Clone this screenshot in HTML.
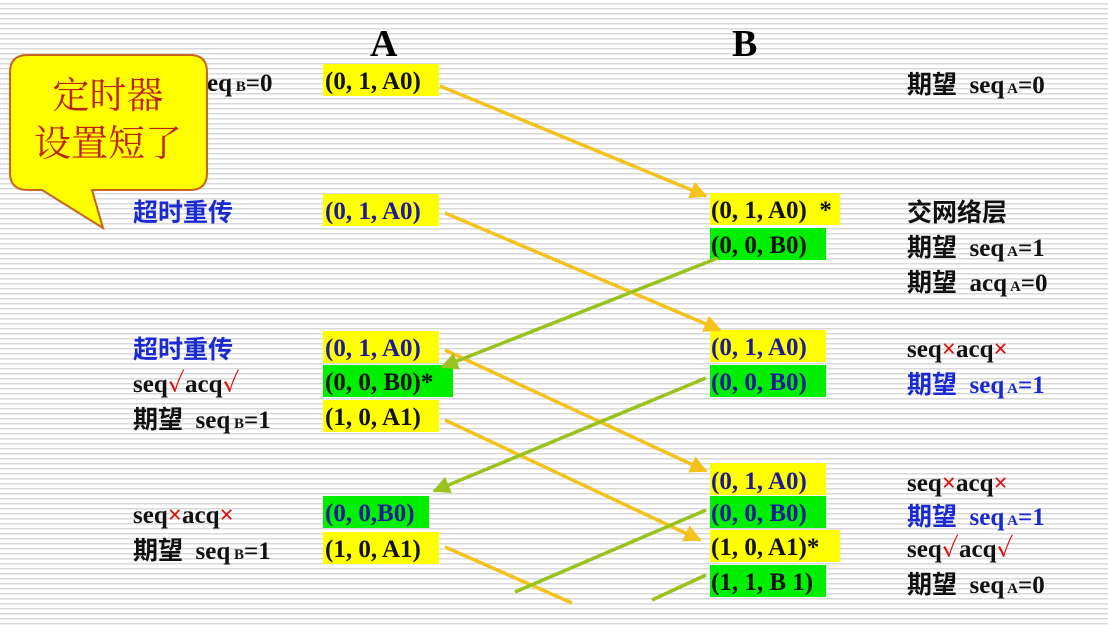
<!DOCTYPE html>
<html><head><meta charset="utf-8"><style>
html,body{margin:0;padding:0}
body{width:1108px;height:628px;overflow:hidden;background:#fff repeating-linear-gradient(to bottom,#fff 0px,#fff 3px,#d9d9d9 3px,#d9d9d9 4.5px,#fff 4.5px,#fff 5px)}
svg{display:block}
text{font-family:"Liberation Serif","Noto Serif CJK SC",serif;font-weight:bold;font-size:25px}
.cn{font-family:"Liberation Serif","Noto Sans CJK SC",sans-serif}
.s{font-size:15px}
</style></head><body>
<svg width="1108" height="628" xmlns="http://www.w3.org/2000/svg">
<defs>
<marker id="hy" viewBox="0 0 10 10" refX="9" refY="5" markerWidth="5" markerHeight="5" orient="auto"><path d="M0,0L10,5L0,10z" fill="#f5c21b"/></marker>
<marker id="hg" viewBox="0 0 10 10" refX="9" refY="5" markerWidth="5" markerHeight="5" orient="auto"><path d="M0,0L10,5L0,10z" fill="#99c31c"/></marker>
</defs>
<text x="370" y="56" style="font-size:38px">A</text>
<text x="732" y="56" style="font-size:38px">B</text>

<g>
<rect x="323" y="64" width="116" height="32" fill="#ffff00"/><text x="325" y="89" fill="#111">(0, 1, A0)</text>
<rect x="323" y="194" width="116" height="32" fill="#ffff00"/><text x="325" y="219" fill="#1a1a9a">(0, 1, A0)</text>
<rect x="323" y="331" width="116" height="32" fill="#ffff00"/><text x="325" y="356" fill="#1a1a9a">(0, 1, A0)</text>
<rect x="323" y="365" width="130" height="32" fill="#00ee00"/><text x="325" y="390" fill="#111">(0, 0, B0)*</text>
<rect x="323" y="400" width="116" height="32" fill="#ffff00"/><text x="325" y="425" fill="#111">(1, 0, A1)</text>
<rect x="323" y="496" width="106" height="32" fill="#00ee00"/><text x="325" y="521" fill="#1a1a9a">(0, 0,B0)</text>
<rect x="323" y="532" width="116" height="32" fill="#ffff00"/><text x="325" y="557" fill="#111">(1, 0, A1)</text>
</g>
<g>
<rect x="710" y="193" width="130" height="32" fill="#ffff00"/><text x="711" y="218" fill="#111" xml:space="preserve">(0, 1, A0)  *</text>
<rect x="710" y="228" width="116" height="32" fill="#00ee00"/><text x="711" y="253" fill="#111">(0, 0, B0)</text>
<rect x="710" y="330" width="116" height="32" fill="#ffff00"/><text x="711" y="355" fill="#1a1a9a">(0, 1, A0)</text>
<rect x="710" y="365" width="116" height="32" fill="#00ee00"/><text x="711" y="390" fill="#1a1a9a">(0, 0, B0)</text>
<rect x="710" y="463" width="116" height="32" fill="#ffff00"/><text x="711" y="489" fill="#1a1a9a">(0, 1, A0)</text>
<rect x="710" y="496" width="116" height="32" fill="#00ee00"/><text x="711" y="521" fill="#1a1a9a">(0, 0, B0)</text>
<rect x="710" y="530" width="130" height="32" fill="#ffff00"/><text x="711" y="555" fill="#111">(1, 0, A1)*</text>
<rect x="710" y="565" width="116" height="32" fill="#00ee00"/><text x="711" y="590" fill="#111">(1, 1, B 1)</text>
</g>

<g>
<text x="207" y="91" fill="#111">eq<tspan class="s"> B</tspan>=0</text>
<text class="cn" x="133" y="221" fill="#1a2ad0">超时重传</text>
<text class="cn" x="133" y="358" fill="#1a2ad0">超时重传</text>
<text x="133" y="392" fill="#111">seq<tspan fill="#e01010">✓</tspan>acq<tspan fill="#e01010">✓</tspan></text>
<text class="cn" x="133" y="428" fill="#111" xml:space="preserve">期望  seq<tspan class="s"> B</tspan>=1</text>
<text x="133" y="523" fill="#111">seq<tspan fill="#e01010">×</tspan>acq<tspan fill="#e01010">×</tspan></text>
<text class="cn" x="133" y="559" fill="#111" xml:space="preserve">期望  seq<tspan class="s"> B</tspan>=1</text>
</g>
<g>
<text class="cn" x="907" y="93" fill="#111" xml:space="preserve">期望  seq<tspan class="s"> A</tspan>=0</text>
<text class="cn" x="907" y="221" fill="#111">交网络层</text>
<text class="cn" x="907" y="256" fill="#111" xml:space="preserve">期望  seq<tspan class="s"> A</tspan>=1</text>
<text class="cn" x="907" y="291" fill="#111" xml:space="preserve">期望  acq<tspan class="s"> A</tspan>=0</text>
<text x="907" y="357" fill="#111">seq<tspan fill="#e01010">×</tspan>acq<tspan fill="#e01010">×</tspan></text>
<text class="cn" x="907" y="393" fill="#1a2ad0" xml:space="preserve">期望  seq<tspan class="s"> A</tspan>=1</text>
<text x="907" y="491" fill="#111">seq<tspan fill="#e01010">×</tspan>acq<tspan fill="#e01010">×</tspan></text>
<text class="cn" x="907" y="525" fill="#1a2ad0" xml:space="preserve">期望  seq<tspan class="s"> A</tspan>=1</text>
<text x="907" y="557" fill="#111">seq<tspan fill="#e01010">✓</tspan>acq<tspan fill="#e01010">✓</tspan></text>
<text class="cn" x="907" y="593" fill="#111" xml:space="preserve">期望  seq<tspan class="s"> A</tspan>=0</text>
</g>

<g stroke-width="3.5" fill="none">
<line x1="440" y1="86" x2="706" y2="196" stroke="#f5c21b" marker-end="url(#hy)"/>
<line x1="445" y1="213" x2="720" y2="330" stroke="#f5c21b" marker-end="url(#hy)"/>
<line x1="445" y1="350" x2="706" y2="471" stroke="#f5c21b" marker-end="url(#hy)"/>
<line x1="445" y1="420" x2="700" y2="540" stroke="#f5c21b" marker-end="url(#hy)"/>
<line x1="445" y1="547" x2="572" y2="603" stroke="#f5c21b"/>
<line x1="718" y1="258" x2="442" y2="367" stroke="#99c31c" marker-end="url(#hg)"/>
<line x1="706" y1="378" x2="434" y2="491" stroke="#99c31c" marker-end="url(#hg)"/>
<line x1="706" y1="510" x2="515" y2="592" stroke="#99c31c"/>
<line x1="706" y1="575" x2="652" y2="600" stroke="#99c31c"/>
</g>

<g>
<path d="M28,55 H190 Q207,55 207,72 V173 Q207,190 190,190 H92 L103,228 L42,190 H28 Q10,190 10,173 V72 Q10,55 28,55 Z" fill="#ffff00" stroke="#c8641e" stroke-width="2"/>
<text x="108" y="108" text-anchor="middle" fill="#c02010" style="font-family:'Noto Serif CJK SC',serif;font-size:37px;font-weight:normal">定时器</text>
<text x="108" y="156" text-anchor="middle" fill="#c02010" style="font-family:'Noto Serif CJK SC',serif;font-size:37px;font-weight:normal">设置短了</text>
</g>
</svg>
</body></html>
